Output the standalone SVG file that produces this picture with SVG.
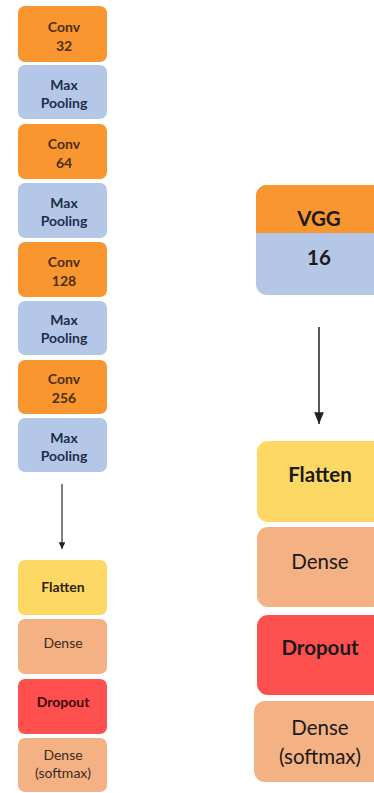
<svg xmlns="http://www.w3.org/2000/svg" width="374" height="793" viewBox="0 0 374 793">
  <style>
    .conv { fill: #F9962F; }
    .pool { fill: #B4C7E7; }
    .flat { fill: #FDD865; }
    .dense { fill: #F4B183; }
    .drop { fill: #FF5050; }
    text { font-family: Lato, "Open Sans", "Liberation Sans", sans-serif; text-anchor: middle; }
    .s { font-size: 14px; font-weight: bold; }
    .sn { font-size: 14px; }
    .dk { fill: #4a2f12; }
    .nv { fill: #1f2d4a; }
    .l { font-size: 20.5px; fill: #1a1a1a; }
    .b { font-weight: bold; }
    .wire { stroke: #222; stroke-width: 1.5; fill: none; }
    .wire-l { stroke: #555; stroke-width: 1.5; fill: none; }
  </style>
  <defs>
    <marker id="ah" viewBox="0 0 12 10" refX="12" refY="5" markerWidth="8" markerHeight="6.5" orient="auto" markerUnits="strokeWidth">
      <path d="M0,0 L12,5 L0,10 Z" fill="#222"/>
    </marker>
    <marker id="ahs" viewBox="0 0 10 10" refX="10" refY="5" markerWidth="4.5" markerHeight="4.5" orient="auto" markerUnits="strokeWidth">
      <path d="M0,0 L10,5 L0,10 Z" fill="#222"/>
    </marker>
  </defs>
  <rect width="374" height="793" fill="#fff"/>

  <!-- left stack: custom CNN -->
  <g id="conv32"><rect class="conv" x="18" y="6" width="89" height="56" rx="7"/><text class="s dk" x="64" y="32">Conv</text><text class="s dk" x="64" y="51">32</text></g>
  <g id="pool1"><rect class="pool" x="18" y="65" width="89" height="54" rx="7"/><text class="s nv" x="64" y="90">Max</text><text class="s nv" x="64" y="108">Pooling</text></g>
  <g id="conv64"><rect class="conv" x="18" y="124" width="89" height="55" rx="7"/><text class="s dk" x="64" y="149">Conv</text><text class="s dk" x="64" y="168">64</text></g>
  <g id="pool2"><rect class="pool" x="18" y="183" width="89" height="55" rx="7"/><text class="s nv" x="64" y="208">Max</text><text class="s nv" x="64" y="226">Pooling</text></g>
  <g id="conv128"><rect class="conv" x="18" y="242" width="89" height="55" rx="7"/><text class="s dk" x="64" y="267">Conv</text><text class="s dk" x="64" y="286">128</text></g>
  <g id="pool3"><rect class="pool" x="18" y="301" width="89" height="54" rx="7"/><text class="s nv" x="64" y="325">Max</text><text class="s nv" x="64" y="343">Pooling</text></g>
  <g id="conv256"><rect class="conv" x="18" y="360" width="89" height="54" rx="7"/><text class="s dk" x="64" y="384">Conv</text><text class="s dk" x="64" y="403">256</text></g>
  <g id="pool4"><rect class="pool" x="18" y="418" width="89" height="54" rx="7"/><text class="s nv" x="64" y="443">Max</text><text class="s nv" x="64" y="461">Pooling</text></g>

  <g id="flatten-l"><rect class="flat" x="18" y="560" width="89" height="55" rx="7"/><text class="s" fill="#2a2410" x="63" y="592">Flatten</text></g>
  <g id="dense-l"><rect class="dense" x="18" y="619" width="89" height="55" rx="7"/><text class="sn" fill="#3a2a20" x="63" y="648">Dense</text></g>
  <g id="dropout-l"><rect class="drop" x="18" y="679" width="89" height="55" rx="7"/><text class="s" fill="#3a0a0a" x="63" y="707">Dropout</text></g>
  <g id="softmax-l"><rect class="dense" x="18" y="738" width="89" height="54" rx="7"/><text class="sn" fill="#3a2a20" x="63" y="760">Dense</text><text class="sn" fill="#3a2a20" x="63" y="778">(softmax)</text></g>

  <!-- right stack: VGG16 transfer model -->
  <g id="vgg16">
    <rect class="pool" x="256" y="185" width="140" height="110" rx="11"/>
    <path class="conv" d="M256,233 V196 A11,11 0 0 1 267,185 H396 V233 Z"/>
    <text class="l b" x="319" y="226">VGG</text>
    <text class="l b" x="319" y="265">16</text>
  </g>
  <g id="flatten-r"><rect class="flat" x="257" y="441" width="140" height="81" rx="11"/><text class="l b" x="320" y="482">Flatten</text></g>
  <g id="dense-r"><rect class="dense" x="257" y="527" width="140" height="80" rx="11"/><text class="l" x="320" y="569">Dense</text></g>
  <g id="dropout-r"><rect class="drop" x="257" y="615" width="140" height="80" rx="11"/><text class="l b" x="320" y="655">Dropout</text></g>
  <g id="softmax-r"><rect class="dense" x="254" y="701" width="140" height="81" rx="11"/><text class="l" x="320" y="735">Dense</text><text class="l" x="320" y="764">(softmax)</text></g>

  <!-- connectors -->
  <g id="connectors">
    <line class="wire-l" x1="62" y1="484" x2="62" y2="549" marker-end="url(#ahs)"/>
    <line class="wire" x1="319" y1="327" x2="319" y2="424" marker-end="url(#ah)"/>
  </g>
</svg>
